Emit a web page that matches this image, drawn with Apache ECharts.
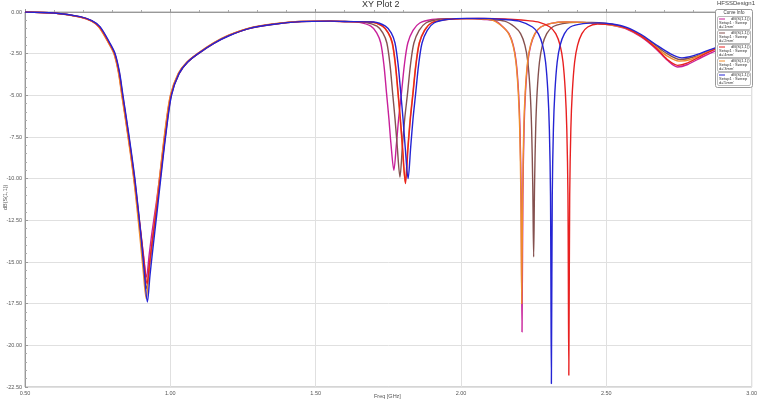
<!DOCTYPE html>
<html>
<head>
<meta charset="utf-8">
<script src="https://cdn.jsdelivr.net/npm/echarts@6/dist/echarts.min.js"></script>
<style>html,body{margin:0;padding:0;background:#fff}#c{width:760px;height:403px}</style>
</head>
<body>
<div id="c"></div>
<script>
// Series data: [Freq GHz, dB(S(1,1))]
const seriesNames = ["d='1mm'", "d='2mm'", "d='3mm'", "d='4mm'", "d='5mm'"];
const seriesColors = ['#c8209a', '#85514f', '#f08c2c', '#e82020', '#2424d4'];

const magentaData = [[0.50,0],[0.60,-0.07],[0.69,-0.3],[0.73,-0.55],[0.755,-0.9],[0.789,-1.88],[0.807,-2.5],[0.822,-3.6],[0.834,-5.0],[0.847,-6.5],[0.862,-8.3],[0.875,-10.0],[0.887,-11.7],[0.897,-13.1],[0.907,-14.5],[0.918,-15.9],[0.927,-14.6],[0.937,-13.2],[0.952,-11.4],[0.964,-9.8],[0.982,-7.2],[1.001,-5.0],[1.028,-3.7],[1.058,-3.0],[1.098,-2.45],[1.15,-1.85],[1.20,-1.4],[1.27,-0.98],[1.35,-0.73],[1.45,-0.56],[1.55,-0.55],
 [1.60,-0.57],[1.65,-0.62],[1.69,-0.85],[1.71,-1.25],[1.724,-1.86],[1.735,-3.2],[1.744,-4.9],[1.752,-6.4],[1.759,-7.9],[1.769,-9.5],[1.778,-7.9],[1.786,-6.3],[1.795,-4.9],[1.805,-3.2],[1.817,-1.86],[1.835,-1.1],[1.858,-0.66],[1.90,-0.45],[1.96,-0.4],[2.02,-0.4],[2.08,-0.45],[2.12,-0.55],[2.145,-0.9],
 [2.165,-1.3],[2.18,-2.0],[2.19,-3.0],[2.198,-4.8],[2.203,-7.0],[2.207,-11],[2.210,-19.2],[2.213,-11],[2.217,-7.0],[2.222,-4.8],[2.23,-3.0],[2.24,-2.0],[2.255,-1.3],[2.275,-0.9],[2.31,-0.68],[2.36,-0.6],[2.42,-0.62],[2.47,-0.68],[2.52,-0.8],[2.57,-1.02],[2.62,-1.5],[2.67,-2.2],[2.71,-2.9],[2.745,-3.3],[2.78,-3.15],[2.83,-2.7],[2.88,-2.3],[2.94,-1.9],[3.00,-1.65]];

const brownData = [[0.50,0],[0.60,-0.06],[0.69,-0.29],[0.73,-0.53],[0.756,-0.89],[0.790,-1.87],[0.808,-2.5],[0.823,-3.6],[0.835,-5.0],[0.848,-6.5],[0.863,-8.3],[0.876,-10.0],[0.888,-11.8],[0.898,-13.4],[0.908,-15.1],[0.919,-16.6],[0.928,-15.2],[0.938,-13.8],[0.953,-11.7],[0.965,-9.9],[0.983,-7.3],[1.002,-5.0],[1.029,-3.7],[1.059,-3.0],[1.099,-2.45],[1.15,-1.86],[1.20,-1.42],[1.27,-0.99],[1.35,-0.74],[1.45,-0.57],[1.55,-0.55],
 [1.60,-0.57],[1.67,-0.62],[1.711,-0.85],[1.731,-1.25],[1.745,-1.86],[1.756,-3.2],[1.765,-4.9],[1.773,-6.4],[1.780,-7.9],[1.790,-9.9],[1.799,-7.9],[1.807,-6.3],[1.816,-4.9],[1.826,-3.2],[1.838,-1.86],[1.856,-1.1],[1.879,-0.66],[1.92,-0.45],[1.98,-0.4],[2.04,-0.4],[2.10,-0.45],[2.15,-0.55],[2.185,-0.9],
 [2.205,-1.3],[2.22,-2.0],[2.23,-3.0],[2.238,-4.8],[2.243,-7.0],[2.247,-10.5],[2.250,-14.7],[2.253,-10.5],[2.257,-7.0],[2.262,-4.8],[2.27,-3.0],[2.28,-2.0],[2.295,-1.3],[2.315,-0.9],[2.35,-0.7],[2.40,-0.62],[2.45,-0.62],[2.50,-0.68],[2.55,-0.85],[2.60,-1.2],[2.65,-1.75],[2.70,-2.4],[2.755,-2.85],[2.80,-2.7],[2.85,-2.35],[2.90,-2.05],[2.95,-1.8],[3.00,-1.6]];

const orangeData = [[0.50,0],[0.60,-0.07],[0.69,-0.31],[0.73,-0.56],[0.754,-0.9],[0.788,-1.88],[0.806,-2.5],[0.821,-3.6],[0.833,-5.0],[0.846,-6.5],[0.861,-8.3],[0.874,-10.0],[0.886,-11.9],[0.896,-13.6],[0.906,-15.4],[0.917,-17.2],[0.926,-15.7],[0.936,-14.1],[0.951,-11.8],[0.963,-9.9],[0.981,-7.2],[1.000,-5.0],[1.027,-3.7],[1.057,-3.0],[1.097,-2.45],[1.15,-1.84],[1.20,-1.39],[1.27,-0.97],[1.35,-0.72],[1.45,-0.56],[1.55,-0.55],
 [1.60,-0.57],[1.69,-0.6],[1.73,-0.85],[1.749,-1.25],[1.763,-1.86],[1.774,-3.2],[1.783,-4.9],[1.791,-6.5],[1.798,-8.1],[1.808,-10.2],[1.817,-8.1],[1.825,-6.4],[1.834,-4.9],[1.844,-3.2],[1.856,-1.86],[1.874,-1.1],[1.897,-0.66],[1.94,-0.47],[2.00,-0.4],[2.06,-0.4],[2.11,-0.5],[2.144,-0.9],
 [2.164,-1.3],[2.179,-2.0],[2.189,-3.0],[2.197,-4.8],[2.202,-7.0],[2.206,-11],[2.209,-17.5],[2.212,-11],[2.216,-7.0],[2.221,-4.8],[2.229,-3.0],[2.239,-2.0],[2.254,-1.3],[2.274,-0.9],[2.31,-0.68],[2.36,-0.6],[2.42,-0.62],[2.47,-0.68],[2.52,-0.8],[2.57,-1.0],[2.62,-1.45],[2.67,-2.1],[2.71,-2.65],[2.75,-2.95],[2.79,-2.85],[2.84,-2.45],[2.89,-2.1],[2.945,-1.8],[3.00,-1.6]];

const redData = [[0.50,0],[0.60,-0.06],[0.69,-0.29],[0.73,-0.53],[0.757,-0.9],[0.791,-1.88],[0.809,-2.5],[0.824,-3.6],[0.836,-5.0],[0.849,-6.5],[0.864,-8.3],[0.877,-10.0],[0.889,-11.8],[0.899,-13.3],[0.909,-14.9],[0.920,-16.3],[0.929,-15.0],[0.939,-13.6],[0.954,-11.6],[0.966,-9.9],[0.984,-7.3],[1.003,-5.0],[1.03,-3.7],[1.06,-3.0],[1.10,-2.45],[1.15,-1.88],[1.20,-1.43],[1.27,-1.0],[1.35,-0.75],[1.45,-0.58],[1.55,-0.55],
 [1.60,-0.58],[1.69,-0.6],[1.73,-0.85],[1.75,-1.25],[1.764,-1.86],[1.775,-3.2],[1.784,-4.9],[1.792,-6.5],[1.799,-8.1],[1.809,-10.3],[1.818,-8.1],[1.826,-6.4],[1.835,-4.9],[1.845,-3.2],[1.857,-1.86],[1.875,-1.1],[1.898,-0.66],[1.94,-0.47],[2.00,-0.4],[2.06,-0.38],[2.12,-0.4],[2.18,-0.45],[2.23,-0.52],[2.27,-0.62],[2.306,-0.9],
 [2.326,-1.3],[2.341,-2.0],[2.351,-3.0],[2.359,-4.8],[2.364,-7.0],[2.368,-11],[2.371,-21.8],[2.374,-11],[2.378,-7.0],[2.383,-4.8],[2.391,-3.0],[2.401,-2.0],[2.416,-1.3],[2.436,-0.9],[2.47,-0.72],[2.52,-0.75],[2.57,-0.98],[2.62,-1.45],[2.67,-2.15],[2.71,-2.85],[2.745,-3.2],[2.78,-3.05],[2.83,-2.6],[2.88,-2.2],[2.94,-1.85],[3.00,-1.6]];

const blueData = [[0.50,0],[0.60,-0.06],[0.69,-0.28],[0.73,-0.52],[0.758,-0.88],[0.792,-1.86],[0.81,-2.5],[0.825,-3.6],[0.837,-5.0],[0.85,-6.5],[0.865,-8.3],[0.878,-10.0],[0.89,-11.9],[0.90,-13.6],[0.91,-15.5],[0.921,-17.4],[0.93,-15.8],[0.94,-14.2],[0.955,-11.9],[0.967,-10.0],[0.985,-7.3],[1.004,-5.0],[1.03,-3.7],[1.06,-3.0],[1.10,-2.45],[1.15,-1.88],[1.20,-1.44],[1.27,-1.0],[1.35,-0.75],[1.45,-0.58],[1.55,-0.55],
 [1.60,-0.57],[1.70,-0.6],[1.74,-0.85],[1.76,-1.25],[1.773,-1.86],[1.784,-3.2],[1.793,-4.9],[1.801,-6.5],[1.808,-8.1],[1.818,-10.0],[1.827,-8.1],[1.835,-6.4],[1.844,-4.9],[1.854,-3.2],[1.866,-1.86],[1.884,-1.1],[1.907,-0.66],[1.95,-0.45],[2.02,-0.38],[2.08,-0.38],[2.15,-0.45],[2.20,-0.55],[2.246,-0.9],
 [2.266,-1.3],[2.281,-2.0],[2.291,-3.0],[2.299,-4.8],[2.304,-7.0],[2.308,-11],[2.311,-22.3],[2.314,-11],[2.318,-7.0],[2.323,-4.8],[2.331,-3.0],[2.341,-2.0],[2.356,-1.3],[2.376,-0.9],[2.42,-0.7],[2.47,-0.65],[2.52,-0.72],[2.57,-0.92],[2.62,-1.35],[2.67,-1.95],[2.72,-2.5],[2.76,-2.75],[2.80,-2.62],[2.85,-2.3],[2.90,-2.0],[2.95,-1.75],[3.00,-1.55]];

const allData = [magentaData, brownData, orangeData, redData, blueData];

const legendLines = ['dB(S(1,1))', 'Setup1 : Sweep'];
const legendOrder = [0, 1, 3, 2, 4];

const chart = echarts.init(document.getElementById('c'), null, {renderer: 'canvas'});

const graphics = [
  {type: 'text', left: 362, top: 0, style: {text: 'XY Plot 2', font: '9px "Liberation Sans", Arial, sans-serif', fill: '#333'}},
  {type: 'text', left: 717, top: 0, style: {text: 'HFSSDesign1', font: '6px "Liberation Sans", Arial, sans-serif', fill: '#444'}},
  {type: 'text', left: 374, top: 393, style: {text: 'Freq [GHz]', font: '5.5px "Liberation Sans", Arial, sans-serif', fill: '#555'}},
  {type: 'text', x: 2, y: 210, rotation: Math.PI / 2, style: {text: 'dB(S(1,1))', font: '5.5px "Liberation Sans", Arial, sans-serif', fill: '#555'}},
  {type: 'rect', shape: {x: 715.5, y: 9.5, width: 37, height: 78, r: 2}, style: {fill: '#fff', stroke: '#999', lineWidth: 1}, z: 100},
  {type: 'text', x: 734, y: 10.5, style: {text: 'Curve Info', font: '4.5px "Liberation Sans", Arial, sans-serif', fill: '#333', align: 'center'}, z: 101}
];
legendOrder.forEach((si, k) => {
  const y0 = 16.5 + k * 14;
  graphics.push({type: 'rect', shape: {x: 717.5, y: y0, width: 33, height: 13, r: 1.5}, style: {fill: '#fff', stroke: '#aaa', lineWidth: 0.8}, z: 101});
  graphics.push({type: 'line', shape: {x1: 719, y1: y0 + 2.5, x2: 725, y2: y0 + 2.5}, style: {stroke: seriesColors[si], lineWidth: 1}, z: 102});
  graphics.push({type: 'text', x: 749.5, y: y0 + 0.5, style: {text: legendLines[0], font: '4px "Liberation Sans", Arial, sans-serif', fill: '#333', align: 'right'}, z: 102});
  graphics.push({type: 'text', x: 719, y: y0 + 4.5, style: {text: legendLines[1], font: '4px "Liberation Sans", Arial, sans-serif', fill: '#333'}, z: 102});
  graphics.push({type: 'text', x: 719, y: y0 + 8.5, style: {text: seriesNames[si], font: '4px "Liberation Sans", Arial, sans-serif', fill: '#333'}, z: 102});
});

const option = {
  animation: false,
  backgroundColor: '#fff',
  grid: {left: 25, right: 8, top: 12, bottom: 16, show: true, borderColor: '#aaa', borderWidth: 1},
  xAxis: {
    type: 'value', min: 0.5, max: 3.0, interval: 0.5,
    axisLine: {lineStyle: {color: '#999'}},
    axisTick: {inside: true, length: 3, lineStyle: {color: '#999'}},
    minorTick: {show: true, splitNumber: 5, length: 2, lineStyle: {color: '#aaa'}},
    axisLabel: {fontSize: 5.5, color: '#555', margin: 3, formatter: v => v.toFixed(2), fontFamily: 'Liberation Sans'},
    splitLine: {show: true, lineStyle: {color: '#e0e0e0', width: 1}}
  },
  yAxis: {
    type: 'value', min: -22.5, max: 0, interval: 2.5,
    axisLine: {show: true, lineStyle: {color: '#999'}},
    axisTick: {show: true, inside: true, length: 3, lineStyle: {color: '#999'}},
    minorTick: {show: true, splitNumber: 5, length: 2, lineStyle: {color: '#aaa'}},
    axisLabel: {fontSize: 5.5, color: '#555', margin: 3, formatter: v => v.toFixed(2), fontFamily: 'Liberation Sans'},
    splitLine: {show: true, lineStyle: {color: '#e0e0e0', width: 1}}
  },
  series: allData.map((d, i) => ({
    name: seriesNames[i], type: 'line', data: d, showSymbol: false,
    smooth: 0.3,
    lineStyle: {color: seriesColors[i], width: 1.4}, itemStyle: {color: seriesColors[i]}
  })),
  graphic: graphics
};
chart.setOption(option);
</script>
</body>
</html>
